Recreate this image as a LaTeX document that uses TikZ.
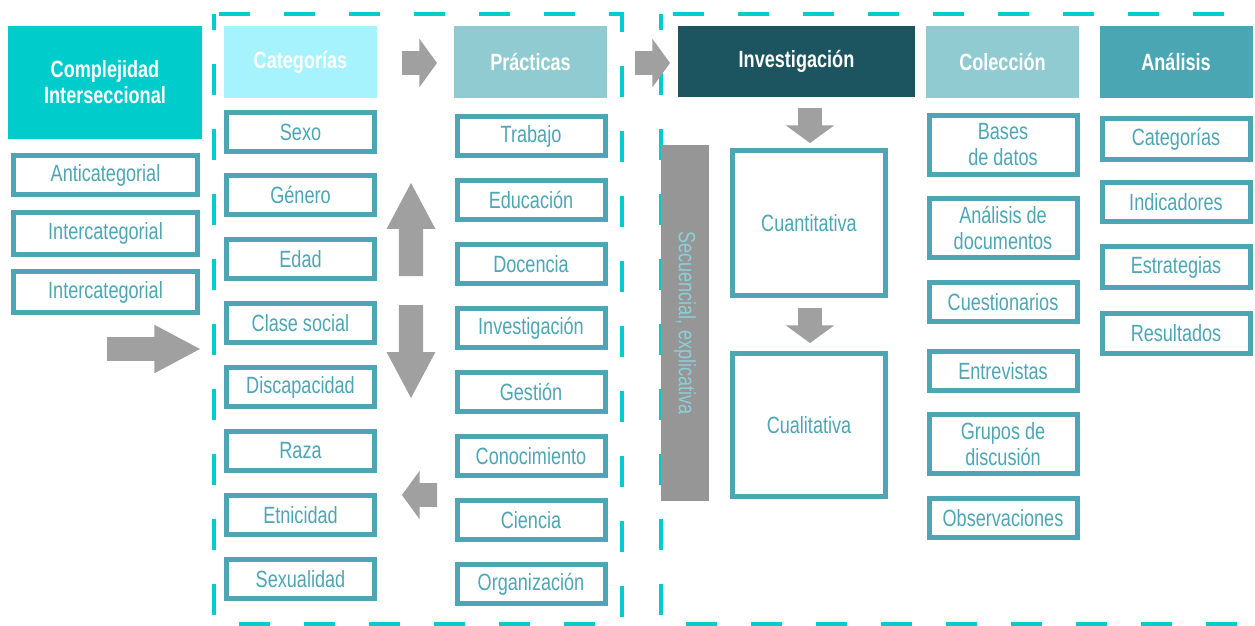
\documentclass[tikz,border=0pt]{standalone}
\usepackage{fontspec}
\setmainfont{Liberation Sans}[FakeStretch=0.77]
\usetikzlibrary{shapes.arrows}

\definecolor{cyanbox}{HTML}{00CCCC}
\definecolor{catfill}{HTML}{A6F3FE}
\definecolor{pracfill}{HTML}{8FCBD1}
\definecolor{invfill}{HTML}{1C5560}
\definecolor{anafill}{HTML}{4BA6B3}
\definecolor{boxline}{HTML}{4EA6B4}
\definecolor{arrowgray}{HTML}{A0A0A0}
\definecolor{bargray}{HTML}{969696}
\definecolor{seqtext}{HTML}{8DCFD6}

\begin{document}
\begin{tikzpicture}[
    x=1pt, y=-1pt,
    every node/.style={inner sep=0pt, outer sep=0pt, align=center, font=\fontsize{23.5}{26}\selectfont},
    itembox/.style={draw=boxline, line width=5pt, fill=white, text=boxline, minimum width=148pt, minimum height=39pt},
    headbox/.style={font=\fontsize{23.5}{26}\selectfont\bfseries, text=white, minimum width=153pt, minimum height=72pt},
    garrow/.style={single arrow, fill=arrowgray, minimum height=35pt, inner ysep=11.75pt, single arrow head extend=12.25pt, single arrow tip angle=108},
    longarrow/.style={garrow, minimum height=93pt, single arrow tip angle=56},
    vgarrow/.style={garrow, inner ysep=0pt, inner xsep=11.75pt},
    vlongarrow/.style={longarrow, inner ysep=0pt, inner xsep=12pt},
    dashbox/.style={draw=cyanbox, line width=4pt, dash pattern=on 31pt off 34pt, dash phase=15pt}
]
\useasboundingbox (0,0) rectangle (1255,626);

% Dashed frames
\draw[dashbox] (214,14) rectangle (622,624);
\draw[dashbox] (661,14) rectangle (1300,624);

% Complejidad interseccional
\node[headbox, fill=cyanbox, minimum width=194pt, minimum height=113pt] (compl) at (105,82.5) {Complejidad\\Interseccional};
\node[itembox, minimum width=184pt] (anti) at (105.5,175) {Anticategorial};
\node[itembox, minimum width=184pt, minimum height=42pt] (inter1) at (105.5,233) {Intercategorial};
\node[itembox, minimum width=184pt, minimum height=41pt] (inter2) at (105.5,292) {Intercategorial};

% Categorias
\node[headbox, fill=catfill] (cat) at (300.5,62) {Categorías};
\node[itembox] (sexo) at (300.5,132) {Sexo};
\node[itembox] (genero) at (300.5,195) {Género};
\node[itembox] (edad) at (300.5,259) {Edad};
\node[itembox] (clase) at (300.5,323) {Clase social};
\node[itembox] (disc) at (300.5,387) {Discapacidad};
\node[itembox] (raza) at (300.5,451) {Raza};
\node[itembox] (etni) at (300.5,515) {Etnicidad};
\node[itembox] (sexual) at (300.5,579) {Sexualidad};

% Practicas
\node[headbox, fill=pracfill] (prac) at (530.5,62) {Prácticas};
\node[itembox] (trabajo) at (531,136) {Trabajo};
\node[itembox] (educ) at (531,200) {Educación};
\node[itembox] (docen) at (531,264) {Docencia};
\node[itembox] (invp) at (531,328) {Investigación};
\node[itembox] (gestion) at (531,392) {Gestión};
\node[itembox] (conoc) at (531,456) {Conocimiento};
\node[itembox] (ciencia) at (531,520) {Ciencia};
\node[itembox] (organ) at (531,584) {Organización};

% Investigacion
\node[headbox, fill=invfill, minimum width=237pt, minimum height=71pt] (inv) at (796.5,61.5) {Investigación};
\node[fill=bargray, text=seqtext, rotate=-90, minimum width=356pt, minimum height=48pt] (seq) at (685,323) {Secuencial, explicativa};
\node[itembox, minimum width=153pt, minimum height=145pt] (cuanti) at (809,223) {Cuantitativa};
\node[itembox, minimum width=153pt, minimum height=143pt] (cuali) at (809,425) {Cualitativa};

% Coleccion
\node[headbox, fill=pracfill] (col) at (1002.5,62) {Colección};
\node[itembox, minimum height=59pt] (bases) at (1003,145) {Bases\\de datos};
\node[itembox, minimum height=59pt] (anadoc) at (1003,228) {Análisis de\\documentos};
\node[itembox] (cuest) at (1003,302) {Cuestionarios};
\node[itembox] (entrev) at (1003,371) {Entrevistas};
\node[itembox, minimum height=59pt] (grupos) at (1003,444) {Grupos de\\discusión};
\node[itembox] (observ) at (1003,518) {Observaciones};

% Analisis
\node[headbox, fill=anafill] (ana) at (1176,62) {Análisis};
\node[itembox, minimum height=41pt] (acat) at (1176,139) {Categorías};
\node[itembox] (indic) at (1176,202) {Indicadores};
\node[itembox, minimum height=41pt] (estrat) at (1176,267) {Estrategias};
\node[itembox, minimum height=40pt] (result) at (1176,333) {Resultados};

% Arrows
\node[longarrow, anchor=tip] (into) at (200,349) {};
\node[garrow, anchor=tip] (catprac) at (437,63) {};
\node[garrow, anchor=tip] (pracinv) at (670,63) {};
\node[vlongarrow, shape border rotate=90, anchor=tip] (up) at (411,183) {};
\node[vlongarrow, shape border rotate=270, anchor=tip] (down) at (411,398) {};
\node[garrow, shape border rotate=180, anchor=tip] (back) at (402,495) {};
\node[vgarrow, shape border rotate=270, anchor=tip] (tocuanti) at (810,143) {};
\node[vgarrow, shape border rotate=270, anchor=tip] (tocuali) at (810,343) {};

\end{tikzpicture}
\end{document}
